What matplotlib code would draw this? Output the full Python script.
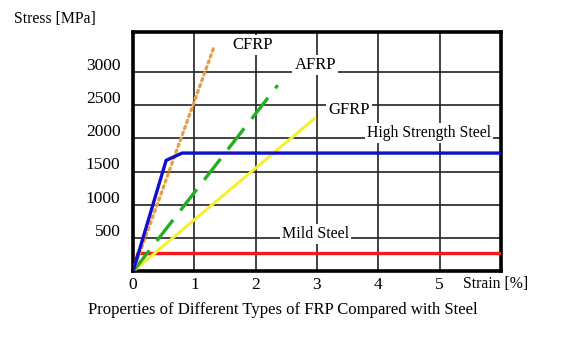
import matplotlib.pyplot as plt
import matplotlib.transforms as mtransforms

# stress-strain curves (strain in %, stress in MPa)
cfrp_strain = [0, 1.33]
cfrp_stress = [0, 3400]
afrp_strain = [0, 2.36]
afrp_stress = [0, 2800]
gfrp_strain = [0, 2.96]
gfrp_stress = [0, 2300]
hss_strain = [0, 0.54, 0.8, 6.0]
hss_stress = [0, 1670, 1780, 1780]
mild_strain = [0, 0.08, 6.0]
mild_stress = [0, 270, 270]

xticks = [0, 1, 2, 3, 4, 5]
yticks = [500, 1000, 1500, 2000, 2500, 3000]

plt.rcParams['font.family'] = ['Liberation Serif', 'DejaVu Serif']

fig = plt.figure(figsize=(5.65, 3.43), dpi=100)
ax = fig.add_axes([0.2354, 0.2085, 0.6513, 0.6982])

ax.plot(mild_strain, mild_stress, color='#ee1c1c', lw=2.4, zorder=3)
ax.plot(gfrp_strain, gfrp_stress, color='#f4f032', lw=2.2, zorder=3)
ax.plot(afrp_strain, afrp_stress, color='#22b022', lw=2.4, dashes=(8, 3.6), zorder=3)
ax.plot(cfrp_strain, cfrp_stress, color='#e8a048', lw=2.4, linestyle=(0, (0.7, 1.2)),
        dash_capstyle='round', zorder=3)
ax.plot(hss_strain, hss_stress, color='#1010c8', lw=2.4, zorder=4)

ax.set_xlim(0, 6)
ax.set_ylim(0, 3600)
ax.set_xticks(xticks)
ax.set_yticks(yticks)
ax.set_xticklabels([str(v) for v in xticks], fontsize=12.5)
ax.set_yticklabels([str(v) for v in yticks], fontsize=12.5)
ax.tick_params(axis='y', length=0, pad=9)
ax.tick_params(axis='x', length=0, pad=4)
ax.grid(True, color='#222222', lw=1.2)
for s in ax.spines.values():
    s.set_linewidth(2.6)
    s.set_color('black')

# nudge y tick labels above their grid lines, like the original
off = mtransforms.ScaledTranslation(0, 6 / 72, fig.dpi_scale_trans)
for lab in ax.get_yticklabels():
    lab.set_transform(lab.get_transform() + off)

box = dict(facecolor='white', edgecolor='none', pad=1.5)
ax.text(1.95, 3400, 'CFRP', fontsize=12, ha='center', va='center', bbox=box, zorder=5)
ax.text(2.97, 3110, 'AFRP', fontsize=12, ha='center', va='center', bbox=box, zorder=5)
ax.text(3.52, 2430, 'GFRP', fontsize=12, ha='center', va='center', bbox=box, zorder=5)
ax.text(4.83, 2080, 'High Strength Steel', fontsize=11.3, ha='center', va='center', bbox=box, zorder=5)
ax.text(2.97, 560, 'Mild Steel', fontsize=11.5, ha='center', va='center', bbox=box, zorder=5)

fig.text(0.024, 0.945, 'Stress [MPa]', fontsize=11.3, ha='left', va='center')
fig.text(0.82, 0.172, 'Strain [%]', fontsize=11.3, ha='left', va='center')
fig.text(0.5, 0.095, 'Properties of Different Types of FRP Compared with Steel',
         fontsize=12, ha='center', va='center')

fig.savefig('out.png', dpi=100)
